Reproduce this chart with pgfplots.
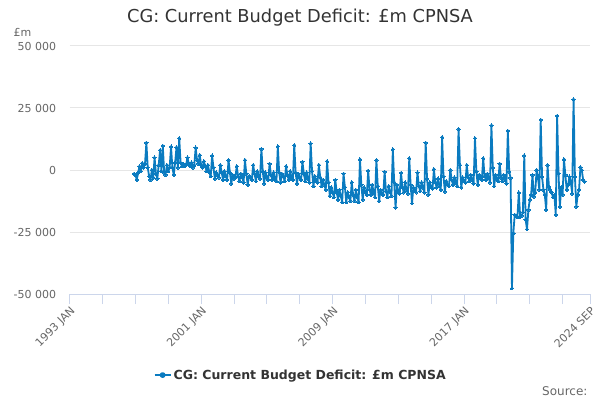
\documentclass[border=0pt]{standalone}
\usepackage{fontspec}
\setmainfont{DejaVu Sans}
\usepackage{pgfplots}
\usepackage{pgfplotstable}
\pgfplotsset{compat=1.18}
\definecolor{linec}{HTML}{0A7BC0}
\definecolor{gridc}{HTML}{E6E6E6}
\definecolor{axc}{HTML}{CCD6EB}
\definecolor{txt}{HTML}{333333}
\definecolor{lab}{HTML}{666666}

% monthly values, 1997 APR to 2024 SEP
\pgfplotstableread{
v
-1500
-2000
-4000
-1000
1500
-500
2800
1000
2500
11000
1000
-2500
-4000
0
-3000
5000
-1500
-3500
2000
8000
-500
9700
-1000
-2000
2000
-500
1000
9400
1000
-2000
3000
9100
1000
12800
3000
1500
2500
1500
2000
5000
2500
1500
3000
1000
2000
9000
4000
2500
6000
2000
1000
3500
1500
-500
2000
-1000
-2500
5800
1000
-3500
-1000
-2000
-3000
2000
-1000
-4000
-500
-2500
-4000
4000
-1000
-5500
-2000
-3500
-3000
1500
-2500
-4500
-1500
-3000
-5000
4000
-1500
-6000
-2500
-3000
-4000
2000
-1500
-4500
-500
-2500
-3500
8500
-500
-5500
-1000
-3000
-4000
2500
-2000
-4000
-1000
-3500
-4500
9500
-1000
-5000
-1500
-2500
-4500
1500
-2000
-4000
-500
-3000
-4000
10000
-1000
-5500
-1500
-3000
-4000
3300
-1500
-4500
-1000
-3500
-5000
10700
-500
-6500
-2500
-4000
-5000
2000
-3000
-6500
-4000
-6000
-8000
3500
-5000
-10500
-7000
-9000
-11000
-4000
-9000
-12000
-8000
-10500
-13000
-1500
-7000
-13000
-9000
-11000
-12500
-5000
-10000
-12500
-8000
-11000
-13000
4300
-6000
-12000
-7000
-9000
-10000
-300
-8000
-10000
-6000
-9000
-11000
4000
-6500
-12500
-8000
-9500
-10000
-700
-8500
-11000
-6500
-9000
-10500
8300
-5000
-15200
-6000
-8500
-9500
-1200
-7000
-9000
-5000
-8000
-9500
4700
-6000
-13400
-7000
-8000
-9000
-1000
-6500
-8500
-5000
-7000
-9000
11000
-3500
-10000
-5000
-7000
-7500
300
-5000
-7000
-3500
-6000
-8000
13200
-2500
-8700
-4500
-6000
-6500
0
-4000
-6000
-3000
-5000
-6500
16500
2000
-7000
-3000
-4500
-5000
2000
-3000
-4500
-2000
-4000
-5500
12800
-500
-6000
-2000
-3500
-4000
4700
-2500
-4000
-1500
-3000
-5000
18000
1000
-6500
-2000
-3500
-4500
2500
-3000
-4500
-2000
-3500
-5500
15800
-700
-3200
-47700
-25500
-18100
-18500
-18900
-9100
-18900
-18500
-17000
5800
-20100
-23900
-16100
-12000
-10000
-2000
-10700
-9000
0
-3000
-8000
20200
-2800
-8000
-10000
-16100
2000
-6700
-8000
-9000
-11000
-10000
-18100
21800
-1300
-14800
-7000
-10000
4300
-2000
-8000
-6000
-2700
-5000
-9500
28500
-2800
-14800
-10000
-8000
1100
0
-4000
-4700
}\cgdata

\begin{document}
\begin{tikzpicture}[x=1pt,y=1pt]
\useasboundingbox (0,0) rectangle (600,400);
\node[text=txt, font=\fontsize{17.8}{21}\selectfont] at (300,382) {CG: Current Budget Deficit: £m CPNSA};
\node[text=lab, font=\fontsize{11}{13}\selectfont, anchor=west] at (10,368) {£m};
\node[text=lab, font=\fontsize{12}{14}\selectfont, anchor=east] at (591,9) {Source:};
\begin{axis}[
  at={(69.7pt,106pt)}, anchor=south west,
  scale only axis, width=520.3pt, height=248pt,
  xmin=0, xmax=380, ymin=-50000, ymax=50000,
  axis x line*=bottom, axis y line*=left,
  x axis line style={draw=axc, line width=1pt, -},
  y axis line style={draw=none},
  tick align=outside, major tick length=10pt, minor tick length=10pt,
  xtick={0,96,192,288,380},
  xticklabels={1993 JAN,2001 JAN,2009 JAN,2017 JAN,2024 SEP},
  minor xtick={24,48,72,120,144,168,216,240,264,312,336,360},
  xtick style={draw=axc, line width=1pt},
  minor x tick style={draw=axc, line width=1pt},
  xticklabel style={rotate=45, anchor=north east, text=lab, font=\fontsize{11}{13}\selectfont, inner sep=1pt},
  ytick={-50000,-25000,0,25000,50000},
  yticklabels={-50 000,-25 000,0,25 000,50 000},
  scaled y ticks=false,
  ytick style={draw=none},
  yticklabel style={text=lab, font=\fontsize{11}{13}\selectfont},
  ymajorgrids, grid style={gridc, line width=1pt},
  clip=false,
  legend style={at={(0.444,-0.327)}, anchor=center, draw=none, fill=none,
    font=\bfseries\fontsize{12.5}{14}\selectfont, text=txt},
  legend image code/.code={\draw[linec, line width=2pt] (0pt,0pt) -- (16pt,0pt); \fill[linec] (8pt,0pt) circle (2pt);},
]
\addplot[linec, line width=1.8pt, line join=round, mark=*, mark size=1.7pt,
  mark options={fill=linec, draw=linec, line width=0pt}]
  table[x expr=\coordindex+47, y=v] {\cgdata};
\addlegendentry{CG: Current Budget Deficit: £m CPNSA}
\end{axis}
\end{tikzpicture}
\end{document}
